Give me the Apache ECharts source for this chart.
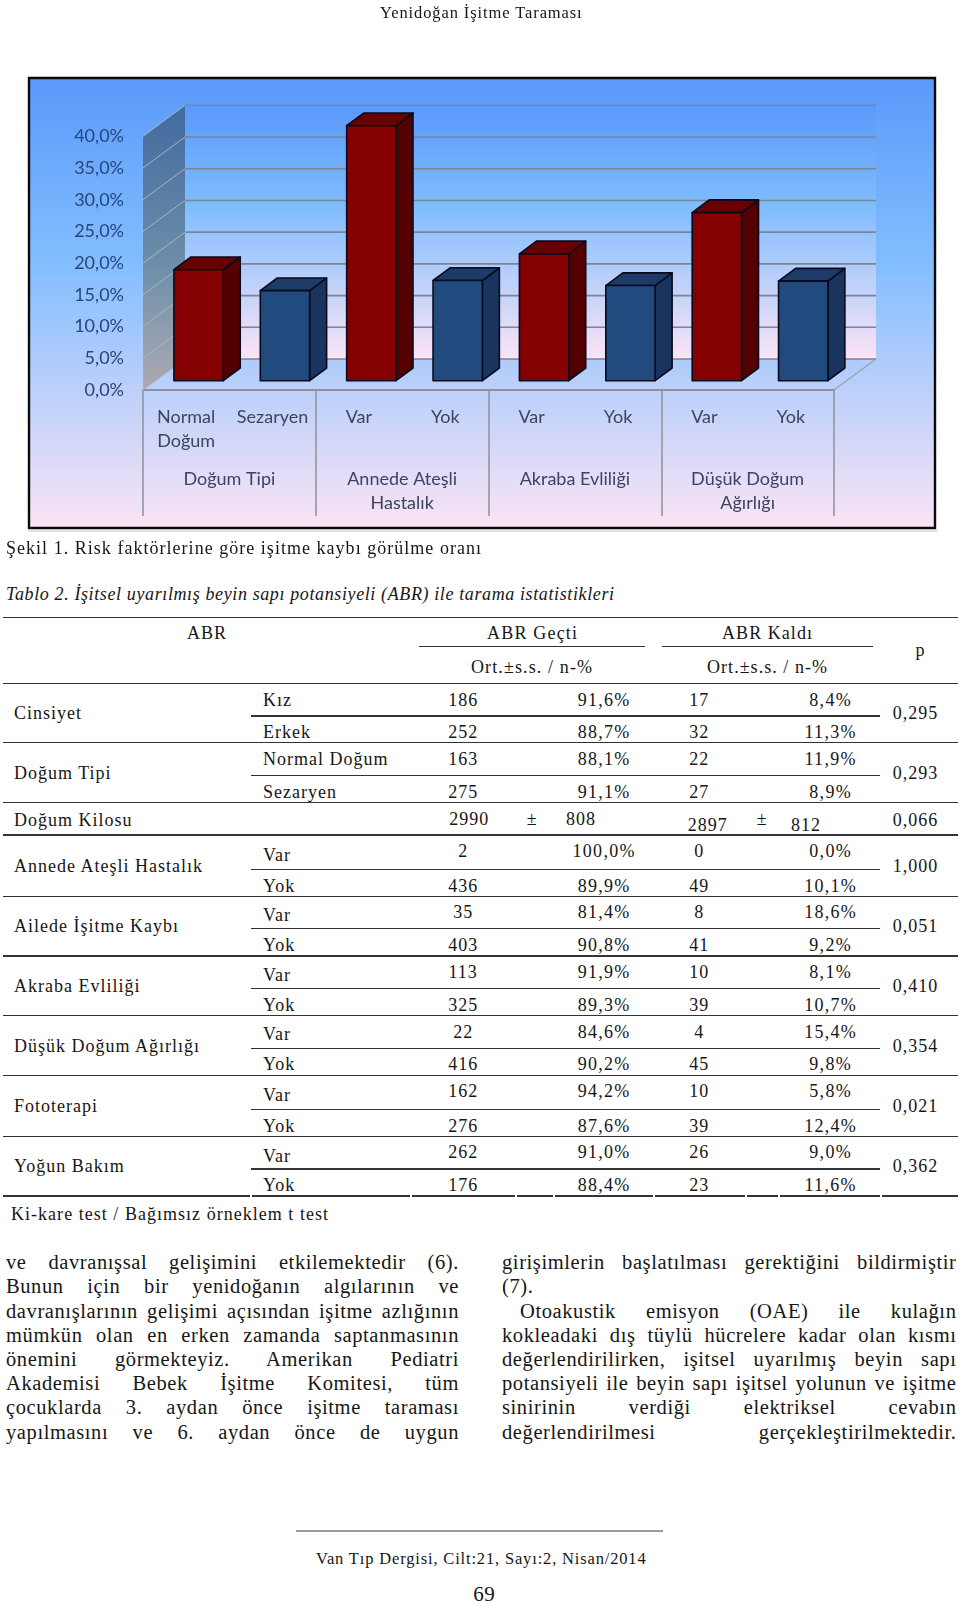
<!DOCTYPE html>
<html lang="tr">
<head>
<meta charset="utf-8">
<title>Yenidoğan İşitme Taraması</title>
<script src="https://cdn.jsdelivr.net/npm/echarts@6/dist/echarts.min.js"></script>
<style>
html,body{margin:0;padding:0;background:#fff;}
#page{position:relative;width:960px;height:1604px;overflow:hidden;color:#161616;font-family:"Liberation Serif",serif;}
#chart{position:absolute;left:0;top:0;width:960px;height:540px;}
.t{position:absolute;white-space:nowrap;}
.r{position:absolute;background:#333;}
.j{position:absolute;white-space:nowrap;text-align:justify;text-align-last:justify;}
</style>
</head>
<body>
<div id="page"><div id="chart"></div></div>
<script>
// ---------- chart data ----------
const categories = ['Normal\nDoğum','Sezaryen','Var','Yok','Var','Yok','Var','Yok'];
const groups = ['Doğum Tipi','Annede Ateşli\nHastalık','Akraba Evliliği','Düşük Doğum\nAğırlığı'];
const barValues = [17.5,14.2,40.2,15.8,20.0,15.0,26.5,15.7];
const barKinds = ['red','blue','red','blue','red','blue','red','blue'];
const yTicks = [0,5,10,15,20,25,30,35,40];

// ---------- table data ----------
const groupLabels = ['Cinsiyet','Doğum Tipi','Annede Ateşli Hastalık','Ailede İşitme Kaybı','Akraba Evliliği','Düşük Doğum Ağırlığı','Fototerapi','Yoğun Bakım'];
const pValues = ['0,295','0,293','1,000','0,051','0,410','0,354','0,021','0,362'];
const subLabels = ['Kız','Erkek','Normal Doğum','Sezaryen','Var','Yok','Var','Yok','Var','Yok','Var','Yok','Var','Yok','Var','Yok'];
const passCounts = ['186','252','163','275','2','436','35','403','113','325','22','416','162','276','262','176'];
const passPct = ['91,6%','88,7%','88,1%','91,1%','100,0%','89,9%','81,4%','90,8%','91,9%','89,3%','84,6%','90,2%','94,2%','87,6%','91,0%','88,4%'];
const failCounts = ['17','32','22','27','0','49','8','41','10','39','4','45','10','39','26','23'];
const failPct = ['8,4%','11,3%','11,9%','8,9%','0,0%','10,1%','18,6%','9,2%','8,1%','10,7%','15,4%','9,8%','5,8%','12,4%','9,0%','11,6%'];

// ---------- body text ----------
const leftColumn = ['ve davranışsal gelişimini etkilemektedir (6).','Bunun için bir yenidoğanın algılarının ve','davranışlarının gelişimi açısından işitme azlığının','mümkün olan en erken zamanda saptanmasının','önemini görmekteyiz. Amerikan Pediatri','Akademisi Bebek İşitme Komitesi, tüm','çocuklarda 3. aydan önce işitme taraması','yapılmasını ve 6. aydan önce de uygun'];
const rightColumn = ['girişimlerin başlatılması gerektiğini bildirmiştir','(7).','Otoakustik emisyon (OAE) ile kulağın','kokleadaki dış tüylü hücrelere kadar olan kısmı','değerlendirilirken, işitsel uyarılmış beyin sapı','potansiyeli ile beyin sapı işitsel yolunun ve işitme','sinirinin verdiği elektriksel cevabın','değerlendirilmesi gerçekleştirilmektedir.'];

// ---------- chart ----------
const G = echarts.graphic;
const chart = echarts.init(document.getElementById('chart'), null, {renderer:'canvas'});
const DX = 42, DY = -31;
const lineCol = '#7a8595';
const skyStops = [{offset:0,color:'#5a99fb'},{offset:0.4,color:'#80bdfe'},{offset:1,color:'#fbe4f5'}];
const kinds = {
  red:{front:'#850000',side:'#540000',top:'#690000'},
  blue:{front:'#214a7f',side:'#18345f',top:'#1c3b69'}
};
chart.setOption({
  animation:false,
  graphic:[
    {type:'rect',z:-20,shape:{x:29,y:78,width:906,height:450},
     style:{fill:new G.LinearGradient(0,0,0,1,skyStops),stroke:'#0a0a0a',lineWidth:2.4},silent:true},
    {type:'rect',z:-21,shape:{x:28,y:530,width:910,height:2},style:{fill:'#e2e2e2'},silent:true}
  ],
  grid:{left:143,top:136.3,width:691,height:253.7,containLabel:false},
  xAxis:[
    {type:'category',data:categories,position:'bottom',boundaryGap:true,
     axisLine:{show:true,lineStyle:{color:'#8c929a',width:2}},axisTick:{show:false},
     axisLabel:{interval:0,margin:15,color:'#3b4560',fontFamily:'Lato',fontSize:18,lineHeight:24,align:'center'}},
    {type:'category',data:groups,position:'bottom',boundaryGap:true,
     axisLine:{show:false},
     axisTick:{show:true,length:126,lineStyle:{color:'#8c929a',width:1.5}},
     axisLabel:{interval:0,margin:77,color:'#3b4560',fontFamily:'Lato',fontSize:18,lineHeight:24,align:'center'}}
  ],
  yAxis:{type:'value',min:0,max:40,interval:5,
    axisLine:{show:false},axisTick:{show:false},splitLine:{show:false},
    axisLabel:{margin:19,color:'#28457c',fontFamily:'Lato',fontSize:18,
      formatter:v=>v.toFixed(1).replace('.',',')+'%'}},
  series:[
    { // walls
      type:'custom',silent:true,z:1,data:[[0,0]],encode:{x:0,y:1},clip:false,
      renderItem(params,api){
        const c=params.coordSys, L=c.x, R=c.x+c.width, B=c.y+c.height, T=c.y;
        return {type:'group',children:[
          {type:'polygon',shape:{points:[[L+DX,B+DY],[R+DX,B+DY],[R+DX,T+DY],[L+DX,T+DY]]},
           style:{fill:new G.LinearGradient(0,0,0,1,skyStops)}},
          {type:'polygon',shape:{points:[[L,B],[L+DX,B+DY],[L+DX,T+DY],[L,T]]},
           style:{fill:new G.LinearGradient(0,0,0,1,[{offset:0,color:'#41699f'},{offset:0.55,color:'#6c8eaa'},{offset:1,color:'#aeaab2'}])}},
          {type:'line',shape:{x1:R,y1:B,x2:R+DX,y2:B+DY},style:{stroke:'#9aa3ad',lineWidth:1.5}}
        ]};
      }
    },
    { // gridlines on the back wall and the side wall
      type:'custom',silent:true,z:2,data:yTicks.map(v=>[0,v]),encode:{x:0,y:1},clip:false,
      renderItem(params,api){
        const c=params.coordSys, y=api.coord([0,api.value(1)])[1];
        return {type:'group',children:[
          {type:'line',shape:{x1:c.x+DX,y1:y+DY,x2:c.x+c.width+DX,y2:y+DY},style:{stroke:lineCol,lineWidth:1.6}},
          {type:'line',shape:{x1:c.x,y1:y,x2:c.x+DX,y2:y+DY},style:{stroke:'#a7b4c6',lineWidth:1}}
        ]};
      }
    },
    { // 3D bars
      type:'custom',z:3,clip:false,
      data:barValues.map((v,i)=>[i,v]),encode:{x:0,y:1},
      renderItem(params,api){
        const i=api.value(0), v=api.value(1);
        const top=api.coord([i,v]), base=api.coord([i,0]), band=api.size([1,0])[0];
        const w=band*0.571, x0=top[0]+band*0.1435-w/2, x1=x0+w;
        const yT=top[1]-9.3, yB=base[1]-9.3, dx=17, dy=-12.7;
        const k=kinds[barKinds[i]], stroke='#0a0a1e';
        const st=f=>({fill:f,stroke:stroke,lineWidth:1.6,lineJoin:'round'});
        return {type:'group',children:[
          {type:'polygon',shape:{points:[[x1,yB],[x1+dx,yB+dy],[x1+dx,yT+dy],[x1,yT]]},style:st(k.side)},
          {type:'polygon',shape:{points:[[x0,yT],[x1,yT],[x1+dx,yT+dy],[x0+dx,yT+dy]]},style:st(k.top)},
          {type:'polygon',shape:{points:[[x0,yB],[x1,yB],[x1,yT],[x0,yT]]},style:st(k.front)}
        ]};
      }
    }
  ]
});

// ---------- page text ----------
const page = document.getElementById('page');
const ctx = document.createElement('canvas').getContext('2d');
function text(str,o){
  const size=o.size||18, style=o.italic?'italic ':'';
  ctx.font=style+size+'px "Liberation Serif"';
  const m=ctx.measureText(str).width, n=str.length;
  let ls=o.ls===undefined?1:o.ls;
  if(o.w) ls=(o.w-m)/(n-1);
  const width=m+ls*(n-1);
  const el=document.createElement('div');
  el.className='t';
  el.textContent=str;
  el.style.font=style+size+'px/'+size+'px "Liberation Serif"';
  el.style.letterSpacing=ls+'px';
  el.style.top=(o.y-size*0.8375)+'px';
  el.style.left=(o.cx!==undefined?o.cx-width/2:o.x)+'px';
  page.appendChild(el);
}
function rule(x1,x2,y,h,c){
  const el=document.createElement('div');
  el.className='r';
  el.style.cssText+='left:'+x1+'px;width:'+(x2-x1)+'px;top:'+(y-(h||1.4)/2)+'px;height:'+(h||1.4)+'px;'+(c?'background:'+c+';':'');
  page.appendChild(el);
}
text('Yenidoğan İşitme Taraması',{x:380,y:19,size:16.5,w:202});
text('Şekil 1. Risk faktörlerine göre işitme kaybı görülme oranı',{x:6,y:554,size:18,w:475});
text('Tablo 2. İşitsel uyarılmış beyin sapı potansiyeli (ABR) ile tarama istatistikleri',{x:6,y:600,size:18,italic:true,w:608});

// table layout
const SUB_X=263, C1=462.7, C2=603.5, C3=698.7, C4=830, CP=915;
const subY=[706,738.3,765.5,798.3,861.2,891.7,921.2,951,981,1011,1040.3,1070.3,1101,1131.7,1161.7,1191];
const numY=[706,738.3,765.5,798.3,857.3,891.7,918.3,951,977.7,1011,1038.3,1070.3,1097.3,1131.7,1158.3,1191];
const groupY=[719.5,779,871.7,932.3,992.3,1051.7,1112,1172];
const innerRules=[716,775.7,869.3,928.7,988.7,1048.3,1109.3,1169];
const fullRules=[617.3,683.7,742.7,802.7,835,896.7,956,1015.7,1075.3,1136.7];
const bottomSegs=[[3,250],[252,410],[412,515],[517,553],[555,653],[655,745],[747,778],[780,880],[882,958]];

fullRules.forEach(y=>rule(3,958,y));
innerRules.forEach(y=>rule(251,880,y));
bottomSegs.forEach(s=>rule(s[0],s[1],1196));
rule(419,645,646.7); rule(661.7,872.7,646.7);

text('ABR',{x:187,y:639,w:39});
text('ABR Geçti',{x:487,y:639,w:90});
text('ABR Kaldı',{x:722,y:639,w:90});
text('Ort.±s.s. / n-%',{x:471,y:673,w:121});
text('Ort.±s.s. / n-%',{x:707,y:673,w:120});
text('p',{cx:920,y:656});

groupLabels.forEach((s,i)=>text(s,{x:14,y:groupY[i]}));
pValues.forEach((s,i)=>text(s,{cx:CP,y:groupY[i]}));
subLabels.forEach((s,i)=>text(s,{x:SUB_X,y:subY[i]}));
passCounts.forEach((s,i)=>text(s,{cx:C1,y:numY[i]}));
passPct.forEach((s,i)=>text(s,{cx:C2,y:numY[i],ls:1.3}));
failCounts.forEach((s,i)=>text(s,{cx:C3,y:numY[i]}));
failPct.forEach((s,i)=>text(s,{cx:C4,y:numY[i],ls:1.3}));

text('Doğum Kilosu',{x:14,y:826});
text('2990',{cx:C1+6,y:825});
text('±',{cx:531.7,y:825});
text('808',{x:566,y:825});
text('2897',{x:687.7,y:831});
text('±',{cx:761.7,y:825});
text('812',{x:791,y:831});
text('0,066',{cx:CP,y:826});

text('Ki-kare test / Bağımsız örneklem t test',{x:11,y:1220,w:317});

// body columns
const bodyY=[1269.3,1293.3,1318,1341.7,1365.7,1390,1414,1439];
function bodyLine(str,x,w,y,justify){
  const size=20.5, el=document.createElement('div');
  el.className=justify?'j':'t';
  el.textContent=str;
  el.style.font=size+'px/'+size+'px "Liberation Serif"';
  el.style.letterSpacing='0.6px';
  el.style.left=x+'px';
  if(justify) el.style.width=w+'px';
  el.style.top=(y-size*0.8375)+'px';
  page.appendChild(el);
}
leftColumn.forEach((s,i)=>bodyLine(s,6,453,bodyY[i],true));
rightColumn.forEach((s,i)=>{
  if(i===1) bodyLine(s,502,454.5,bodyY[i],false);
  else if(i===2) bodyLine(s,520,436.5,bodyY[i],true);
  else bodyLine(s,502,454.5,bodyY[i],true);
});

rule(295.7,663,1530.7,2,'#9a9a9a');
text('Van Tıp Dergisi, Cilt:21, Sayı:2, Nisan/2014',{x:316,y:1564.5,size:16.5,w:330});
text('69',{cx:484,y:1602,size:21,ls:0.5});
</script>
</body>
</html>
